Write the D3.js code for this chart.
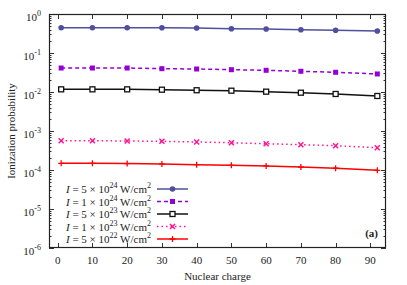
<!DOCTYPE html>
<html lang="en">
<head>
<meta charset="UTF-8">
<title>Ionization probability vs nuclear charge</title>
<script src="https://d3js.org/d3.v7.min.js"></script>
<style>
    body { margin: 0; background: #fff; }
    svg { display: block; }
    text { font-family: "Liberation Serif", "DejaVu Serif", serif; fill: #222; }
</style>
</head>
<body>
<svg id="chart"></svg>
<script>
    // nuclear charge Z of the computed points
    const charges = [1, 10, 20, 30, 40, 50, 60, 70, 80, 92];

    // ionization probability per intensity
    const p5e24 = [0.446, 0.446, 0.446, 0.443, 0.438, 0.420, 0.412, 0.395, 0.382, 0.366];
    const p1e24 = [0.0412, 0.0412, 0.0412, 0.0396, 0.0389, 0.0373, 0.0360, 0.0340, 0.0320, 0.0290];
    const p5e23 = [0.0117, 0.0117, 0.0117, 0.01145, 0.0111, 0.0108, 0.0102, 0.0096, 0.0089, 0.0079];
    const p1e23 = [5.64e-4, 5.64e-4, 5.54e-4, 5.44e-4, 5.23e-4, 5.0e-4, 4.72e-4, 4.45e-4, 4.2e-4, 3.73e-4];
    const p5e22 = [1.48e-4, 1.48e-4, 1.46e-4, 1.43e-4, 1.37e-4, 1.32e-4, 1.27e-4, 1.19e-4, 1.11e-4, 0.98e-4];

    const legendMant = ["5", "1", "5", "1", "5"];
    const legendExp = ["24", "24", "23", "23", "22"];

    const xTicks = [0, 10, 20, 30, 40, 50, 60, 70, 80, 90];
    const yExps = [0, -1, -2, -3, -4, -5, -6];

    const series = [
        { values: p5e24, color: "#4f4f9f", dash: null, marker: "circle" },
        { values: p1e24, color: "#9400d3", dash: "4,3", marker: "fsquare" },
        { values: p5e23, color: "#111111", dash: null, marker: "osquare" },
        { values: p1e23, color: "#ff1493", dash: "1.5,3", marker: "cross" },
        { values: p5e22, color: "#ff0000", dash: null, marker: "plus" }
    ];

    const W = 407, H = 285;
    const m = { left: 49, right: 21, top: 14, bottom: 37 };
    const svg = d3.select("#chart").attr("width", W).attr("height", H);

    const x = d3.scaleLinear().domain([-2.5, 94.5]).range([m.left, W - m.right]);
    const y = d3.scaleLog().domain([1e-6, 1]).range([H - m.bottom, m.top]);

    const x0 = m.left, x1 = W - m.right, y0 = H - m.bottom, y1 = m.top;

    // ticks (inward, mirrored)
    const tg = svg.append("g").attr("stroke", "#333").attr("stroke-width", 1);
    xTicks.forEach(t => {
        const px = Math.round(x(t)) + 0.5;
        tg.append("line").attr("x1", px).attr("x2", px).attr("y1", y0).attr("y2", y0 - 5);
        tg.append("line").attr("x1", px).attr("x2", px).attr("y1", y1).attr("y2", y1 + 5);
    });
    yExps.forEach(e => {
        const py = Math.round(y(Math.pow(10, e))) + 0.5;
        tg.append("line").attr("x1", x0).attr("x2", x0 + 5).attr("y1", py).attr("y2", py);
        tg.append("line").attr("x1", x1).attr("x2", x1 - 5).attr("y1", py).attr("y2", py);
        if (e > -6) {
            for (let k = 2; k <= 9; k++) {
                const my = Math.round(y(k * Math.pow(10, e - 1))) + 0.5;
                tg.append("line").attr("x1", x0).attr("x2", x0 + 2.5).attr("y1", my).attr("y2", my);
                tg.append("line").attr("x1", x1).attr("x2", x1 - 2.5).attr("y1", my).attr("y2", my);
            }
        }
    });

    // frame
    svg.append("rect")
        .attr("x", x0 + 0.5).attr("y", y1 + 0.5)
        .attr("width", x1 - x0 - 1).attr("height", y0 - y1 - 1)
        .attr("fill", "none").attr("stroke", "#222").attr("stroke-width", 1.2);

    // tick labels
    svg.append("g").selectAll("text").data(xTicks).join("text")
        .attr("x", d => x(d)).attr("y", y0 + 16)
        .attr("text-anchor", "middle").attr("font-size", 11)
        .text(d => d);

    const yl = svg.append("g").selectAll("text").data(yExps).join("text")
        .attr("x", 41).attr("y", d => y(Math.pow(10, d)) + 7)
        .attr("text-anchor", "end").attr("font-size", 11);
    yl.append("tspan").text("10");
    yl.append("tspan").attr("dy", -5).attr("font-size", 8)
        .text(d => d === 0 ? "0" : "-" + Math.abs(d));

    // axis titles
    svg.append("text").attr("x", (x0 + x1) / 2).attr("y", 280)
        .attr("text-anchor", "middle").attr("font-size", 11).text("Nuclear charge");
    svg.append("text").attr("transform", `translate(15,${(y0 + y1) / 2}) rotate(-90)`)
        .attr("text-anchor", "middle").attr("font-size", 11).text("Ionization probability");

    svg.append("text").attr("x", 378).attr("y", 237)
        .attr("text-anchor", "end").attr("font-size", 11).attr("font-weight", "bold").text("(a)");

    function drawMarker(g, type, color, cx, cy) {
        if (type === "circle") {
            g.append("circle").attr("cx", cx).attr("cy", cy).attr("r", 2.8).attr("fill", color);
        } else if (type === "fsquare") {
            g.append("rect").attr("x", cx - 2.5).attr("y", cy - 2.5).attr("width", 5).attr("height", 5)
                .attr("fill", color);
        } else if (type === "osquare") {
            g.append("rect").attr("x", cx - 2.5).attr("y", cy - 2.5).attr("width", 5).attr("height", 5)
                .attr("fill", "#fff").attr("stroke", color).attr("stroke-width", 1.3);
        } else if (type === "cross") {
            g.append("path").attr("d", `M${cx - 2.5},${cy - 2.5}L${cx + 2.5},${cy + 2.5}M${cx - 2.5},${cy + 2.5}L${cx + 2.5},${cy - 2.5}`)
                .attr("stroke", color).attr("stroke-width", 1.5);
        } else {
            g.append("path").attr("d", `M${cx - 3},${cy}L${cx + 3},${cy}M${cx},${cy - 3}L${cx},${cy + 3}`)
                .attr("stroke", color).attr("stroke-width", 1.3);
        }
    }

    const line = d3.line().x(d => x(d[0])).y(d => y(d[1]));

    series.forEach(s => {
        const pts = charges.map((c, i) => [c, s.values[i]]);
        const g = svg.append("g");
        g.append("path").datum(pts).attr("d", line)
            .attr("fill", "none").attr("stroke", s.color).attr("stroke-width", 1.5)
            .attr("stroke-dasharray", s.dash);
        pts.forEach(p => drawMarker(g, s.marker, s.color, x(p[0]), y(p[1])));
    });

    // legend
    const lg = svg.append("g");
    series.forEach((s, i) => {
        const ry = 189 + i * 12.5;
        const t = lg.append("text").attr("x", 151).attr("y", ry + 4)
            .attr("text-anchor", "end").attr("font-size", 11);
        t.append("tspan").attr("font-style", "italic").text("I");
        t.append("tspan").text(` = ${legendMant[i]} × 10`);
        t.append("tspan").attr("dy", -5).attr("font-size", 8).text(legendExp[i]);
        t.append("tspan").attr("dy", 5).text(" W/cm");
        t.append("tspan").attr("dy", -5).attr("font-size", 8).text("2");
        lg.append("line").attr("x1", 157).attr("x2", 188).attr("y1", ry).attr("y2", ry)
            .attr("stroke", s.color).attr("stroke-width", 1.5).attr("stroke-dasharray", s.dash);
        drawMarker(lg, s.marker, s.color, 172.5, ry);
    });
</script>
</body>
</html>
